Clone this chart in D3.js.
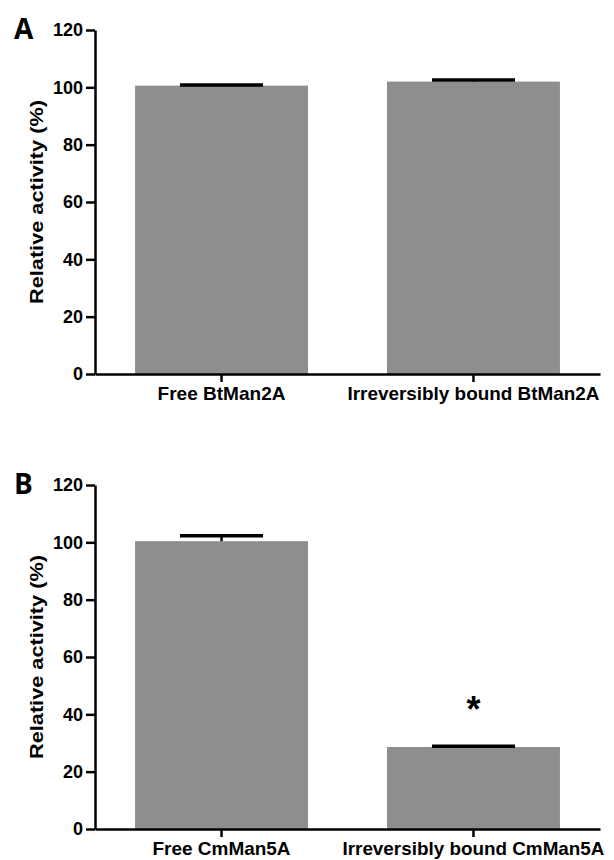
<!DOCTYPE html>
<html>
<head>
<meta charset="utf-8">
<script src="https://cdn.jsdelivr.net/npm/d3@7"></script>
<style>
  body { margin: 0; background: #fff; }
  svg { display: block; }
  text { font-family: "Liberation Sans", Arial, sans-serif; font-weight: bold; fill: #000; }
</style>
</head>
<body>
<div id="chart"></div>
<script>
// Data
const categoriesA = ["Free BtMan2A", "Irreversibly bound BtMan2A"];
const meansA = [100.6, 102.0];
const errorsA = [0.2, 0.6];
const starsA = [false, false];

const categoriesB = ["Free CmMan5A", "Irreversibly bound CmMan5A"];
const meansB = [100.4, 28.6];
const errorsB = [1.9, 0.3];
const starsB = [false, true];

const yTicks = [0, 20, 40, 60, 80, 100, 120];

const width = 614;
const height = 860;

const svg = d3.select("#chart")
    .append("svg")
    .attr("width", width)
    .attr("height", height);

// Draw one bar panel
function drawPanel(letter, cats, means, errs, stars, yBottom, yTop, labelLen) {
    const g = svg.append("g");

    const x = d3.scaleBand()
        .domain(cats)
        .range([95, 600])
        .paddingInner(0.3135)
        .paddingOuter(0.159);

    const y = d3.scaleLinear()
        .domain([0, 120])
        .range([yBottom, yTop]);

    // bars
    g.selectAll("rect.bar")
        .data(cats)
        .join("rect")
        .attr("class", "bar")
        .attr("x", d => x(d))
        .attr("width", x.bandwidth())
        .attr("y", (d, i) => y(means[i]))
        .attr("height", (d, i) => y(0) - y(means[i]))
        .attr("fill", "#8e8e8e");

    // error bars (upper only)
    const capW = x.bandwidth() * 0.48;
    const err = g.append("g");
    cats.forEach((c, i) => {
        const cx = x(c) + x.bandwidth() / 2;
        err.append("line")
            .attr("x1", cx).attr("x2", cx)
            .attr("y1", y(means[i])).attr("y2", y(means[i] + errs[i]))
            .attr("stroke", "#000").attr("stroke-width", 2.5);
        err.append("line")
            .attr("x1", cx - capW / 2).attr("x2", cx + capW / 2)
            .attr("y1", y(means[i] + errs[i])).attr("y2", y(means[i] + errs[i]))
            .attr("stroke", "#000").attr("stroke-width", 3.5);
        if (stars[i]) {
            err.append("text")
                .attr("x", cx)
                .attr("y", y(means[i] + errs[i]) - 24)
                .attr("text-anchor", "middle")
                .attr("font-size", "36px")
                .text("*");
        }
    });

    // y axis
    const yAxis = g.append("g")
        .attr("transform", "translate(95,0)")
        .call(d3.axisLeft(y).tickValues(yTicks).tickSize(9).tickSizeOuter(0).tickPadding(3));
    yAxis.select(".domain").attr("stroke-width", 2.5);
    yAxis.selectAll(".tick line").attr("stroke-width", 2.5);
    yAxis.selectAll(".tick text")
        .attr("font-size", "18px")
        .attr("font-family", null);

    // x axis
    const xAxis = g.append("g")
        .attr("transform", `translate(0,${yBottom})`)
        .call(d3.axisBottom(x).tickSize(8).tickSizeOuter(0).tickPadding(5));
    xAxis.select(".domain").attr("stroke-width", 2.5);
    xAxis.selectAll(".tick line").attr("stroke-width", 2.5);
    xAxis.selectAll(".tick text")
        .attr("font-size", "19px")
        .attr("font-family", null)
        .attr("textLength", (d, i) => labelLen[i])
        .attr("lengthAdjust", "spacingAndGlyphs");

    // y axis title
    g.append("text")
        .attr("transform", `translate(43,${(yBottom + yTop) / 2}) rotate(-90)`)
        .attr("text-anchor", "middle")
        .attr("font-size", "19px")
        .attr("textLength", 204)
        .attr("lengthAdjust", "spacingAndGlyphs")
        .text("Relative activity (%)");

    // panel letter
    g.append("text")
        .attr("x", 14)
        .attr("y", yTop + 9)
        .attr("font-size", "28px")
        .style("font-family", "'Open Sans', 'Noto Sans', sans-serif")
        .text(letter);
}

drawPanel("A", categoriesA, meansA, errorsA, starsA, 374, 30, [128, 252]);
drawPanel("B", categoriesB, meansB, errorsB, starsB, 829, 485, [138, 262]);
</script>
</body>
</html>
